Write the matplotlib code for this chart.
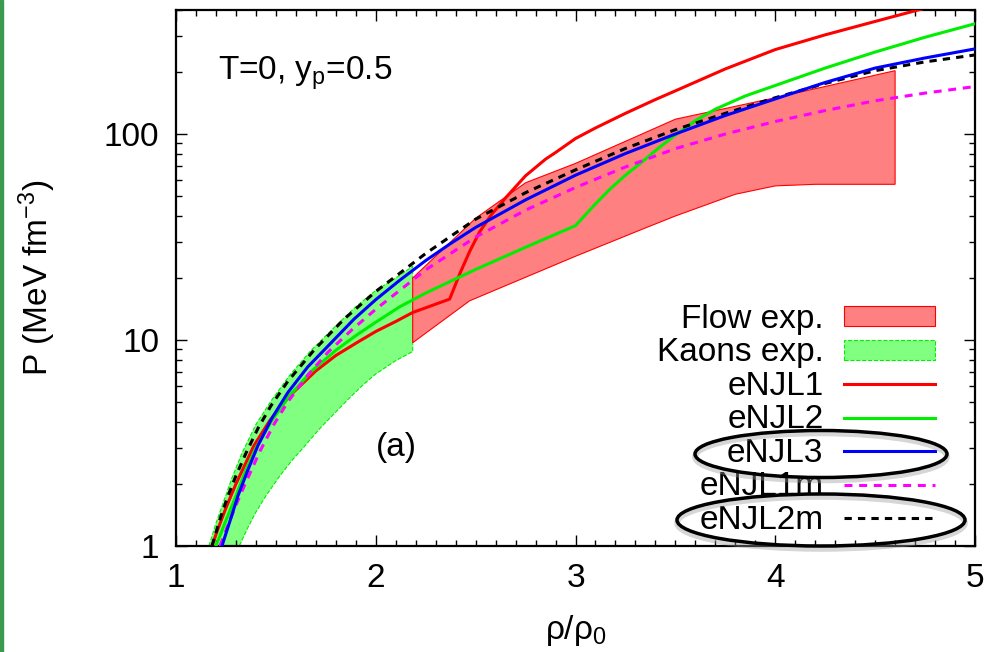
import matplotlib
matplotlib.use('Agg')
import matplotlib.pyplot as plt
from matplotlib.patches import Patch, Ellipse, Rectangle
from matplotlib.lines import Line2D
from matplotlib.ticker import MultipleLocator, LogLocator, NullFormatter

plt.rcParams['font.family'] = ['Liberation Sans', 'DejaVu Sans']
plt.rcParams['mathtext.default'] = 'regular'

# data (rho/rho0, P in MeV fm^-3)
njl1_x = [1.18, 1.21, 1.25, 1.30, 1.39, 1.47, 1.57, 1.70, 1.80, 1.91, 2.0, 2.1, 2.185, 2.37,
          2.42, 2.47, 2.52, 2.58, 2.65, 2.75, 2.85, 2.9, 3.0, 3.1, 3.25, 3.4, 3.5, 3.75, 4.0,
          4.25, 4.5, 4.74, 5.0]
njl1_y = [1.0, 1.21, 1.53, 2.0, 3.07, 4.07, 5.37, 7.08, 8.41, 9.77, 11.0, 12.3, 13.6, 15.8,
          20.9, 26.9, 33.5, 40.7, 49.0, 62.7, 75.5, 81.3, 95.1, 107, 126, 147, 162, 207, 257,
          303, 352, 406, 468]

njl2_x = [1.2, 1.25, 1.30, 1.35, 1.40, 1.48, 1.56, 1.68, 1.80, 1.90, 2.0, 2.12, 2.25, 2.5,
          2.75, 3.0, 3.09, 3.17, 3.25, 3.34, 3.42, 3.5, 3.6, 3.7, 3.85, 4.0, 4.25, 4.5, 4.75, 5.0]
njl2_y = [1.0, 1.33, 1.75, 2.34, 2.99, 4.07, 5.25, 7.08, 8.91, 10.5, 12.2, 14.5, 16.9, 22.0,
          28.2, 35.9, 44.7, 53.7, 63.1, 74.1, 86.1, 98.9, 116, 132, 153, 172, 209, 250, 295, 343]

njl3_x = [1.23, 1.27, 1.31, 1.36, 1.41, 1.48, 1.56, 1.66, 1.78, 1.89, 2.0, 2.12, 2.25, 2.37,
          2.5, 2.75, 3.0, 3.25, 3.5, 3.75, 4.0, 4.25, 4.5, 4.75, 5.0]
njl3_y = [1.0, 1.32, 1.75, 2.34, 3.07, 4.17, 5.56, 7.41, 9.77, 12.6, 15.7, 19.5, 24.3, 29.2,
          35.2, 47.9, 63.1, 80.4, 100, 123, 148, 178, 209, 234, 259]

njl1m_x = [1.22, 1.26, 1.30, 1.35, 1.42, 1.49, 1.56, 1.66, 1.76, 1.88, 2.0, 2.25, 2.5, 2.75,
           3.0, 3.25, 3.5, 3.75, 4.0, 4.25, 4.5, 4.75, 5.0]
njl1m_y = [1.0, 1.26, 1.58, 2.04, 2.88, 3.89, 5.01, 6.76, 8.71, 11.2, 14.1, 21.9, 31.6, 42.7,
           55.0, 69.2, 84.9, 100, 115, 130, 145, 158, 170]

njl2m_x = [1.18, 1.22, 1.26, 1.30, 1.35, 1.41, 1.475, 1.56, 1.69, 1.84, 2.0, 2.25, 2.5, 2.75,
           3.0, 3.25, 3.5, 3.75, 4.0, 4.25, 4.5, 4.75, 5.0]
njl2m_y = [1.0, 1.35, 1.75, 2.19, 2.82, 3.72, 4.79, 6.31, 8.91, 12.6, 17.2, 26.3, 38.6, 51.9,
           67.0, 85.1, 105, 126, 150, 176, 203, 224, 242]

# Flow exp. band
flow_up_x = [2.185, 2.5, 2.75, 3.0, 3.5, 4.0, 4.6]
flow_up_y = [20.0, 39.0, 58.0, 72.0, 118.0, 150.0, 203.0]
flow_lo_x = [2.185, 2.47, 3.0, 3.35, 3.5, 3.8, 4.0, 4.2, 4.6]
flow_lo_y = [9.7, 15.5, 25.5, 35.0, 40.0, 51.0, 56.0, 57.0, 57.0]

# Kaons exp. band
kaon_up_x = [1.165, 1.20, 1.24, 1.28, 1.33, 1.40, 1.48, 1.57, 1.676, 1.80, 1.90, 2.0, 2.1, 2.185]
kaon_up_y = [1.0, 1.29, 1.66, 2.14, 2.82, 3.89, 5.13, 6.76, 8.91, 11.7, 14.5, 17.4, 20.0, 22.8]
kaon_lo_x = [1.317, 1.36, 1.40, 1.45, 1.52, 1.58, 1.64, 1.72, 1.80, 1.87, 1.94, 2.0, 2.1, 2.185]
kaon_lo_y = [1.0, 1.23, 1.46, 1.75, 2.19, 2.60, 3.02, 3.72, 4.47, 5.25, 6.10, 6.84, 7.94, 8.79]

fig = plt.figure(figsize=(9.88, 6.52), dpi=100)
ax = fig.add_axes([176/988, 1-546/652, 799/988, 536/652])

fs = 24

ax.fill(kaon_up_x + kaon_lo_x[::-1], kaon_up_y + kaon_lo_y[::-1],
        facecolor='#80ff80', edgecolor='#00ee00', linestyle='--', lw=0.8, zorder=1)
ax.fill(flow_up_x + flow_lo_x[::-1], flow_up_y + flow_lo_y[::-1],
        facecolor='#ff8080', edgecolor='#ff0000', lw=0.8, zorder=1)

lw = 2.2
ax.plot(njl1_x, njl1_y, color='#ff0000', lw=lw, zorder=3)
ax.plot(njl2_x, njl2_y, color='#00ee00', lw=lw, zorder=3)
ax.plot(njl1m_x, njl1m_y, color='#ff00ff', lw=lw, dashes=(2.6, 2.2), zorder=3)
ax.plot(njl2m_x, njl2m_y, color='black', lw=lw, dashes=(2.4, 2.0), zorder=3)
ax.plot(njl3_x, njl3_y, color='#0000ff', lw=lw, zorder=4)

ax.set_yscale('log')
ax.set_xlim(1, 5)
ax.set_ylim(1, 400)
ax.set_xticks([1, 2, 3, 4, 5])
ax.set_xticklabels(['1', '2', '3', '4', '5'])
ax.set_yticks([1, 10, 100])
ax.set_yticklabels(['1', '10', '100'])
ax.xaxis.set_minor_locator(MultipleLocator(0.1))
ax.yaxis.set_minor_locator(LogLocator(base=10, subs=range(2, 10)))
ax.yaxis.set_minor_formatter(NullFormatter())
ax.tick_params(which='both', direction='in', top=True, right=True, labelsize=fs, width=1)
ax.tick_params(which='major', length=8)
ax.tick_params(which='minor', length=4)
ax.tick_params(axis='x', pad=12)
ax.tick_params(axis='y', pad=12)
for s in ax.spines.values():
    s.set_linewidth(1.6)

ax.set_xlabel('ρ/ρ$_0$', fontsize=fs, labelpad=14)
ax.set_ylabel('P (MeV fm$^{-3}$)', fontsize=fs, labelpad=33)

ax.text(1.21, 198, 'T=0, $y_p$=0.5', fontsize=fs, va='center', ha='left')
ax.text(2.0, 3.0, '(a)', fontsize=fs, va='center', ha='left')

handles = [
    Patch(facecolor='#ff8080', edgecolor='#ff0000', lw=0.8),
    Patch(facecolor='#80ff80', edgecolor='#00ee00', linestyle='--', lw=0.8),
    Line2D([], [], color='#ff0000', lw=lw),
    Line2D([], [], color='#00ee00', lw=lw),
    Line2D([], [], color='#0000ff', lw=lw),
    Line2D([], [], color='#ff00ff', lw=lw, dashes=(2.6, 2.2)),
    Line2D([], [], color='black', lw=lw, dashes=(2.4, 2.0)),
]
labels = ['Flow exp.', 'Kaons exp.', 'eNJL1', 'eNJL2', 'eNJL3', 'eNJL1m', 'eNJL2m']
leg = ax.legend(handles, labels, loc='upper right', bbox_to_anchor=(0.95, 0.4515),
                frameon=False, fontsize=fs, markerfirst=False, handlelength=2.73,
                handleheight=0.53, handletextpad=0.62, labelspacing=0.075,
                borderpad=0, borderaxespad=0)
leg.set_zorder(5)

# hand-drawn ellipses round two legend entries
for cx, cy, w, h in [(821, 454, 252, 47), (821, 520, 288, 52)]:
    fig.patches.append(Ellipse((cx/988, 1-(cy+3)/652), w/988, h/652, fill=False,
                               edgecolor='#999999', lw=4, alpha=0.4,
                               transform=fig.transFigure, zorder=9))
    fig.patches.append(Ellipse((cx/988, 1-cy/652), w/988, h/652, fill=False,
                               edgecolor='black', lw=2.5,
                               transform=fig.transFigure, zorder=10))

fig.patches.append(Rectangle((0, 0), 3/988, 1, color='#3a9a50', transform=fig.transFigure))

fig.savefig('out.png', dpi=100)
